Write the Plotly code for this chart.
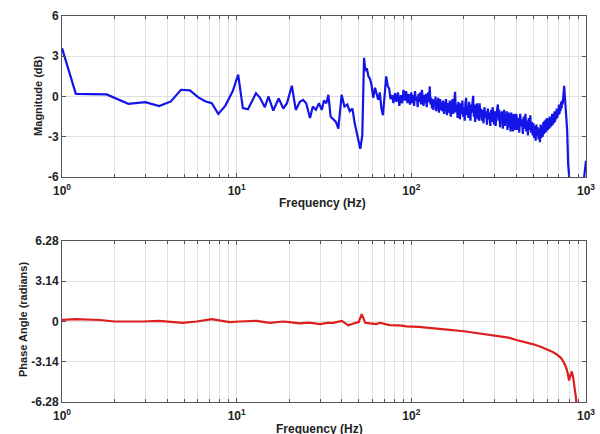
import plotly.graph_objects as go

# ---------------- data ----------------
mag_freq_hz = [
    1.0, 1.2, 1.8, 2.4, 3.0, 3.6, 4.2, 4.8, 5.4, 6.0, 6.6, 7.2, 7.85, 8.6, 9.5,
    10.2, 10.85, 11.6, 12.3, 12.9, 13.6, 14.5, 15.2, 16.2, 17.4, 18.5, 19.4,
    20.7, 21.8, 23.0, 24.0, 25.0, 26.3, 27.3, 28.4, 29.6, 30.7, 31.6, 32.6,
    33.5, 34.5, 35.8, 37.0, 38.2, 39.9, 41.4, 43.0, 44.4, 46.0, 47.4, 48.6,
    50.0, 51.0, 52.4, 53.6, 54.6, 55.6, 56.8, 58.0, 59.2, 60.5, 62.0, 63.2,
    64.6, 66.0, 67.4, 68.8, 70.2, 71.8, 73.2, 74.6, 76.0, 77.6, 79.0, 80.6,
    82.2, 83.8, 85.4, 87.0, 88.6, 90.2, 91.8, 93.4, 95.0, 96.6, 98.2,
    # 100 - 150 Hz
    100, 101.25, 102.5, 103.75, 105, 106.25, 107.5, 108.75, 110, 111.25,
    112.5, 113.75, 115, 116.25, 117.5, 118.75, 120, 121.25, 122.5, 123.75,
    125, 126.25, 127.5, 128.75, 130, 131.25, 132.5, 133.75, 135, 136.25,
    137.5, 138.75, 140, 141.25, 142.5, 143.75, 145, 146.25, 147.5, 148.75,
    # 150 - 250 Hz
    150, 152, 154, 156, 158, 160, 162, 164, 166, 168,
    170, 172, 174, 176, 178, 180, 182, 184, 186, 188,
    190, 192, 194, 196, 198, 200, 202, 204, 206, 208,
    210, 212, 214, 216, 218, 220, 222, 224, 226, 228,
    230, 232, 234, 236, 238, 240, 242, 244, 246, 248,
    # 250 - 400 Hz
    250, 253, 256, 259, 262, 265, 268, 271, 274, 277,
    280, 283, 286, 289, 292, 295, 298, 301, 304, 307,
    310, 313, 316, 319, 322, 325, 328, 331, 334, 337,
    340, 343, 346, 349, 352, 355, 358, 361, 364, 367,
    370, 373, 376, 379, 382, 385, 388, 391, 394, 397,
    # 400 - 600 Hz
    400, 405, 410, 415, 420, 425, 430, 435, 440, 445,
    450, 455, 460, 465, 470, 475, 480, 485, 490, 495,
    500, 505, 510, 515, 520, 525, 530, 535, 540, 545,
    550, 555, 560, 565, 570, 575, 580, 585, 590, 595,
    # 600 - 1000 Hz
    600, 605, 610, 615, 620, 625, 630, 635, 640, 645,
    650, 655, 660, 665, 670, 675, 680, 685, 690, 695,
    700, 705, 710, 715, 720, 725, 730, 735, 740, 745,
    750, 755, 760, 770, 780, 790, 805, 830, 870, 920, 960, 970, 990, 1000,
]
mag_db = [
    3.6, 0.2, 0.15, -0.55, -0.42, -0.72, -0.37, 0.5, 0.45, -0.05, -0.35, -0.5, -1.3, -0.7, 0.4,
    1.63, -0.87, -0.95, -0.3, 0.25, -0.1, -0.8, 0.0, -1.05, -0.15, -0.9, -0.5,
    0.8, -1.0, -0.4, -0.25, -0.5, -1.6, -0.75, -1.0, -0.5, -1.0, -0.3, -0.5,
    0.12, -1.5, -1.75, -1.9, -2.4, 0.12, -0.75, -0.6, -1.1, -0.9, -2.0, -2.6,
    -3.3, -3.9, -2.9, 2.88, 1.9, 2.1, 1.5, 1.3, 0.85, -0.1, 0.65, 0.2,
    -0.25, 0.3, -0.9, -1.4, 0.3, 1.5, 0.8, 0.6, -0.2, 0.1, -0.5, 0.25,
    -0.4, 0.3, -0.7, 0.1, -0.5, 0.5, -0.3, 0.4, -0.5, 0.2, -0.6,
    # 100 - 150 Hz
    0.3, -0.5, 0.1, -0.7, 0.4, -0.3, 0.0, -0.8, 0.2, -0.4,
    0.3, -0.6, 0.5, -0.2, -0.7, 0.1, -0.5, 0.2, -0.8, -0.1,
    0.3, -0.4, 0.75, -0.6, -0.1, -0.9, -0.2, -1.0, -0.3, -0.7,
    0.0, -1.1, -0.4, -0.8, -0.1, -1.2, -0.5, -0.2, -1.0, -0.4,
    # 150 - 250 Hz
    -1.1, -0.3, -1.3, -0.6, -0.2, -1.4, -0.5, -1.2, -0.3, -1.5,
    -0.7, -0.2, -1.3, -0.5, 0.35, -1.2, -0.6, -1.6, -0.4, -1.1,
    -1.7, -0.5, -1.3, -0.3, -1.5, -0.8, -1.8, -0.5, -0.1, -1.4,
    -0.7, -1.6, -0.4, -1.3, -1.8, -0.6, -1.2, -0.4, 0.05, -1.5,
    -0.8, -1.9, -0.6, -1.4, -0.5, -1.7, -0.9, -1.8, -0.5, -1.4,
    # 250 - 400 Hz
    -0.9, -1.8, -1.0, -2.0, -0.8, -1.6, -1.1, -2.1, -0.9, -1.7,
    -1.2, -2.2, -1.0, -1.9, -0.8, -1.5, -2.1, -1.1, -2.2, -1.3,
    -0.9, -0.6, -1.8, -1.0, -2.3, -1.2, -1.9, -1.1, -2.4, -1.4,
    -1.0, -2.2, -1.3, -2.0, -1.1, -2.5, -1.5, -1.2, -2.3, -1.4,
    -2.6, -1.2, -2.0, -1.5, -2.6, -1.3, -2.3, -1.6, -2.5, -1.3,
    # 400 - 600 Hz
    -1.4, -2.5, -1.6, -2.7, -1.3, -2.2, -1.7, -2.8, -1.5, -2.4,
    -1.3, -2.6, -1.8, -2.9, -1.6, -2.5, -1.4, -2.7, -1.9, -2.9,
    -2.0, -3.1, -2.2, -3.3, -2.1, -2.9, -2.3, -3.2, -2.4, -3.4,
    -2.1, -3.1, -2.2, -3.0, -1.9, -2.8, -1.8, -2.7, -1.7, -2.6,
    # 600 - 1000 Hz
    -1.6, -2.5, -1.7, -2.4, -1.5, -2.3, -1.6, -2.2, -1.3, -2.1,
    -1.4, -2.0, -1.1, -1.9, -1.2, -1.7, -0.9, -1.6, -1.0, -1.4,
    -0.6, -1.3, -0.7, -1.1, -0.4, -0.9, -0.3, -0.6, 0.2, 0.5,
    0.8, 0.2, -0.4, -1.0, -2.5, -5.0, -7.0, -12, -12, -12, -12, -6.3, -5.2, -4.8,
]

phase_freq_hz = [
    1.0, 1.2, 1.65, 2.0, 2.9, 3.6, 4.9, 5.9, 7.2, 8.0, 9.1, 10.4, 13, 15.5,
    18.4, 20, 23, 26, 30, 33, 35.7, 40, 43.6, 47.5, 50, 52, 54.5, 58, 63, 66,
    69, 75, 85, 94, 110, 123, 145, 166, 200, 226, 270, 322, 360, 400, 450,
    500, 550, 595, 640, 680, 720, 747, 770, 785, 800, 815, 830, 845, 860,
    875, 890,
]
phase_rad = [
    0.13, 0.19, 0.12, 0.0, 0.0, 0.05, -0.1, 0.0, 0.19, 0.08, -0.05, 0.0, 0.05, -0.1,
    0.0, -0.05, -0.15, -0.08, -0.2, -0.1, -0.1, 0.05, -0.3, -0.12, -0.05, 0.58, -0.1, -0.15, -0.2, -0.1,
    -0.15, -0.28, -0.3, -0.38, -0.42, -0.47, -0.56, -0.65, -0.76, -0.86, -0.98, -1.13, -1.26, -1.44, -1.6,
    -1.78, -1.97, -2.17, -2.35, -2.57, -2.85, -3.2, -3.6, -4.0, -4.6, -4.2, -3.9, -4.4, -5.0,
    -5.9, -7.0,
]

x_major = [1, 10, 100, 1000]
x_major_text = ["10<sup>0</sup>", "10<sup>1</sup>", "10<sup>2</sup>", "10<sup>3</sup>"]
x_minor = [2, 3, 4, 5, 6, 7, 8, 9, 20, 30, 40, 50, 60, 70, 80, 90,
           200, 300, 400, 500, 600, 700, 800, 900]
mag_ticks = [-6, -3, 0, 3, 6]
mag_tick_text = ["-6", "-3", "0", "3", "6"]
phase_ticks = [-6.28, -3.14, 0, 3.14, 6.28]
phase_tick_text = ["-6.28", "-3.14", "0", "3.14", "6.28"]

FONT = "Liberation Sans, Arial, sans-serif"
AX_COL = "#555555"
GRID_COL = "#e0e0e0"

fig = go.Figure()
fig.add_trace(go.Scatter(x=mag_freq_hz, y=mag_db, mode="lines",
                         line=dict(color="#1414e6", width=2.2),
                         xaxis="x", yaxis="y", showlegend=False))
fig.add_trace(go.Scatter(x=phase_freq_hz, y=phase_rad, mode="lines",
                         line=dict(color="#dc1e1e", width=2.2),
                         xaxis="x2", yaxis="y2", showlegend=False))

xcommon = dict(type="log", range=[0, 3], tickmode="array", tickvals=x_major,
               ticktext=x_major_text, showgrid=True, gridcolor=GRID_COL, gridwidth=1,
               showline=True, linecolor=AX_COL, linewidth=1, mirror="ticks",
               ticks="inside", ticklen=4, tickcolor=AX_COL, zeroline=False,
               automargin=False, ticklabelstandoff=3,
               minor=dict(tickmode="array", tickvals=x_minor, ticks="inside", ticklen=3,
                          tickcolor=AX_COL, showgrid=True, gridcolor=GRID_COL, gridwidth=1),
               tickfont=dict(family=FONT, size=12, color="#222222", weight="bold"))
ycommon = dict(showgrid=True, gridcolor=GRID_COL, gridwidth=1, zeroline=False,
               showline=True, linecolor=AX_COL, linewidth=1, mirror="ticks",
               ticks="inside", ticklen=4, tickcolor=AX_COL, tickmode="array",
               automargin=False,
               tickfont=dict(family=FONT, size=12, color="#222222", weight="bold"))

fig.update_layout(
    width=600, height=434,
    margin=dict(l=62, r=14, t=16, b=32),
    paper_bgcolor="white", plot_bgcolor="white",
    xaxis=dict(xcommon, domain=[0, 1], anchor="y"),
    yaxis=dict(ycommon, domain=[0.583, 1], range=[-6, 6], tickvals=mag_ticks,
               ticktext=mag_tick_text, anchor="x"),
    xaxis2=dict(xcommon, domain=[0, 1], anchor="y2"),
    yaxis2=dict(ycommon, domain=[0, 0.417], range=[-6.28, 6.28], tickvals=phase_ticks,
                ticktext=phase_tick_text, anchor="x2"),
)

title_font = dict(family=FONT, size=12, color="#222222", weight="bold")
fig.add_annotation(text="Frequency (Hz)", xref="paper", yref="paper", x=0.498, y=0.5155,
                   showarrow=False, font=title_font, xanchor="center", yanchor="middle")
fig.add_annotation(text="Frequency (Hz)", xref="paper", yref="paper", x=0.492, y=-0.07,
                   showarrow=False, font=title_font, xanchor="center", yanchor="middle")
fig.add_annotation(text="Magnitude (dB)", xref="paper", yref="paper", x=-0.0458, y=0.793,
                   showarrow=False, font=dict(title_font, size=11), textangle=-90,
                   xanchor="center", yanchor="middle")
fig.add_annotation(text="Phase Angle (radians)", xref="paper", yref="paper", x=-0.0744, y=0.2124,
                   showarrow=False, font=dict(title_font, size=11), textangle=-90,
                   xanchor="center", yanchor="middle")

fig.write_html("out.html")
